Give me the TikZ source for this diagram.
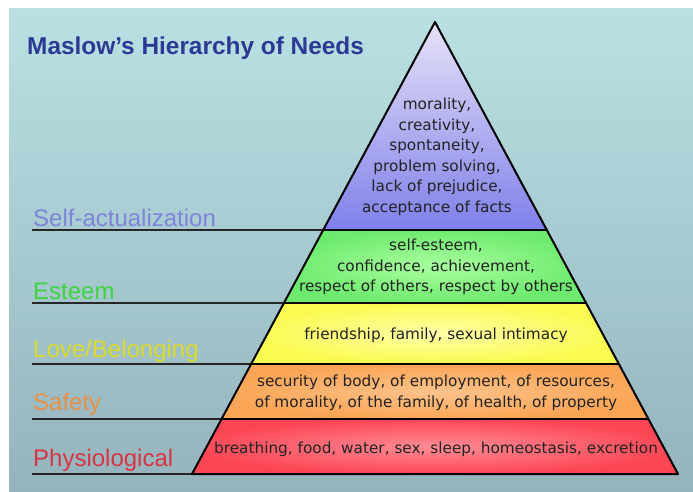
\documentclass[tikz,border=0pt]{standalone}
\usepackage{fontspec}
\setmainfont{DejaVu Sans}
\newfontfamily\labfont{Liberation Sans}
\definecolor{bgtop}{HTML}{B9E1E3}
\definecolor{bgbot}{HTML}{95B3BD}
\definecolor{titlec}{HTML}{2D3994}
\definecolor{selfc}{HTML}{8084D8}
\definecolor{esteemc}{HTML}{3FD43F}
\definecolor{lovec}{HTML}{DADA2A}
\definecolor{safetyc}{HTML}{E8904A}
\definecolor{physc}{HTML}{D83343}
\definecolor{txt}{HTML}{222222}
\definecolor{satop}{HTML}{E6E2F8}
\definecolor{sabot}{HTML}{7F80EA}
\definecolor{estin}{HTML}{AAFFA0}
\definecolor{estout}{HTML}{6EEB6E}
\definecolor{lovein}{HTML}{FFFFAA}
\definecolor{loveout}{HTML}{FAFA50}
\definecolor{safein}{HTML}{FFC38C}
\definecolor{safeout}{HTML}{FAA555}
\definecolor{physin}{HTML}{FF8C96}
\definecolor{physout}{HTML}{FC4655}
\begin{document}
\begin{tikzpicture}[x=1pt,y=-1pt,
  pyr/.style={draw=black,line width=2pt,line join=round},
  sep/.style={draw=black!85,line width=2pt},
  lab/.style={anchor=base west,inner sep=0pt,font=\labfont\fontsize{24}{24}\selectfont},
  inner/.style={align=center,text=txt,inner sep=0pt,font=\fontsize{15.3}{20.5}\selectfont}]
\useasboundingbox (0,0) rectangle (693,492);
\fill[white] (0,0) rectangle (693,492);
\shade[top color=bgtop,bottom color=bgbot] (9,9) rectangle (693,492);
% coordinates
\coordinate (apex) at (435,22);
\coordinate (l1) at (323.2,230); \coordinate (r1) at (546.8,230);
\coordinate (l2) at (283.9,303); \coordinate (r2) at (586.1,303);
\coordinate (l3) at (251.1,364); \coordinate (r3) at (618.9,364);
\coordinate (l4) at (221.6,419); \coordinate (r4) at (648.4,419);
\coordinate (l5) at (192,474);   \coordinate (r5) at (678,474);
\coordinate (s1) at (32,230);
\coordinate (s2) at (32,303);
\coordinate (s3) at (32,364);
\coordinate (s4) at (32,419);
\coordinate (s5) at (32,474);
% separator lines
\draw[sep] (s1) -- (l1);
\draw[sep] (s2) -- (l2);
\draw[sep] (s3) -- (l3);
\draw[sep] (s4) -- (l4);
\draw[sep] (s5) -- (l5);
% layers
\shade[top color=satop,bottom color=sabot] (apex) -- (r1) -- (l1) -- cycle;
\shade[inner color=estin,outer color=estout] (l1) -- (r1) -- (r2) -- (l2) -- cycle;
\shade[inner color=lovein,outer color=loveout] (l2) -- (r2) -- (r3) -- (l3) -- cycle;
\shade[inner color=safein,outer color=safeout] (l3) -- (r3) -- (r4) -- (l4) -- cycle;
\shade[inner color=physin,outer color=physout] (l4) -- (r4) -- (r5) -- (l5) -- cycle;
\draw[pyr] (apex) -- (r5) -- (l5) -- cycle;
\draw[pyr] (l1) -- (r1);
\draw[pyr] (l2) -- (r2);
\draw[pyr] (l3) -- (r3);
\draw[pyr] (l4) -- (r4);
% title and labels
\node[anchor=base west,inner sep=0pt,text=titlec,font=\labfont\bfseries\fontsize{24.4}{24}\selectfont] (title) at (27,54.5) {Maslow’s Hierarchy of Needs};
\node[lab,text=selfc] (selflab) at (33,226.5) {Self-actualization};
\node[lab,text=esteemc] (estlab) at (33,299) {Esteem};
\node[lab,text=lovec] (lovelab) at (33,357) {Love/Belonging};
\node[lab,text=safetyc] (safelab) at (33,410) {Safety};
\node[lab,text=physc] (physlab) at (33,466) {Physiological};
% inner texts
\node[inner] (selftxt) at (437,157) {morality,\\creativity,\\spontaneity,\\problem solving,\\lack of prejudice,\\acceptance of facts};
\node[inner] (esttxt) at (436,267) {self-esteem,\\confidence, achievement,\\respect of others, respect by others};
\node[inner] (lovetxt) at (436,335) {friendship, family, sexual intimacy};
\node[inner] (safetxt) at (436,393) {security of body, of employment, of resources,\\of morality, of the family, of health, of property};
\node[inner] (phystxt) at (436,449) {breathing, food, water, sex, sleep, homeostasis, excretion};
\end{tikzpicture}
\end{document}
